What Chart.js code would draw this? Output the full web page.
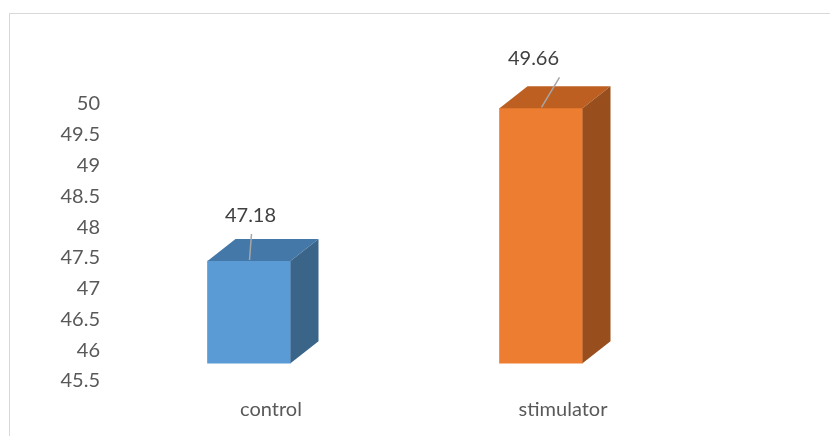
<!DOCTYPE html>
<html lang="en">
  <head>
    <meta charset="utf-8" />
    <title>control vs stimulator</title>
    <style>
      * {
        margin: 0;
        padding: 0;
        box-sizing: border-box;
      }
      body {
        width: 830px;
        height: 436px;
        background: #ffffff;
        overflow: hidden;
        position: relative;
      }
      /* chart frame, cropped at right and bottom */
      .frame {
        position: absolute;
        left: 9px;
        top: 13px;
        width: 900px;
        height: 500px;
        border-left: 1px solid #d9d9d9;
        border-top: 1px solid #d9d9d9;
      }
      #chart {
        position: absolute;
        left: 0;
        top: 0;
      }
    </style>
  </head>
  <body>
    <div class="frame"></div>
    <canvas id="chart" width="830" height="436"></canvas>
    <script src="https://cdn.jsdelivr.net/npm/chart.js@4.4.1/dist/chart.umd.min.js"></script>
    <script>
      // data
      const categories = ["control", "stimulator"];
      const values = [47.18, 49.66];
      const yTicks = [45.5, 46, 46.5, 47, 47.5, 48, 48.5, 49, 49.5, 50];

      const frontColors = ["#5B9BD5", "#ED7D31"];
      const topColors = ["#4478A8", "#BE5F22"];
      const sideColors = ["#3A6488", "#994E1D"];

      // 3D faces + data labels with leader lines
      const cube3d = {
        id: "cube3d",
        afterDatasetsDraw(chart, args, opts) {
          const ctx = chart.ctx;
          const meta = chart.getDatasetMeta(0);
          meta.data.forEach((bar, i) => {
            const w = bar.width;
            const left = bar.x - w / 2;
            const right = bar.x + w / 2;
            const top = bar.y;
            const bottom = bar.base;
            const dx = opts.depthX;
            const dy = opts.depthY;

            ctx.save();
            // top face
            ctx.fillStyle = topColors[i];
            ctx.beginPath();
            ctx.moveTo(left, top);
            ctx.lineTo(left + dx, top - dy);
            ctx.lineTo(right + dx, top - dy);
            ctx.lineTo(right, top);
            ctx.closePath();
            ctx.fill();
            // side face
            ctx.fillStyle = sideColors[i];
            ctx.beginPath();
            ctx.moveTo(right, top);
            ctx.lineTo(right + dx, top - dy);
            ctx.lineTo(right + dx, bottom - dy);
            ctx.lineTo(right, bottom);
            ctx.closePath();
            ctx.fill();

            // leader line
            const lab = opts.labels[i];
            ctx.strokeStyle = "#a6a6a6";
            ctx.lineWidth = 1.5;
            ctx.beginPath();
            ctx.moveTo(bar.x + lab.lx, top + lab.ly);
            ctx.lineTo(bar.x + 0.5, top - 1);
            ctx.stroke();

            // value label
            ctx.fillStyle = "#404040";
            ctx.font = "20px Lato";
            ctx.textAlign = "center";
            ctx.textBaseline = "middle";
            ctx.fillText(values[i].toFixed(2), bar.x + lab.tx, top + lab.ty);
            ctx.restore();
          });
        },
      };

      new Chart(document.getElementById("chart"), {
        type: "bar",
        plugins: [cube3d],
        data: {
          labels: categories,
          datasets: [
            {
              data: values,
              base: 45.52,
              yAxisID: "y2",
              backgroundColor: frontColors,
              borderWidth: 0,
              barThickness: 83,
            },
          ],
        },
        options: {
          responsive: false,
          animation: false,
          devicePixelRatio: 1,
          layout: {
            padding: { left: 0, right: 143, top: 104, bottom: 14 },
          },
          plugins: {
            legend: { display: false },
            tooltip: { enabled: false },
            cube3d: {
              depthX: 28,
              depthY: 22,
              labels: [
                { tx: 1.5, ty: -45, lx: 2.5, ly: -27 },
                { tx: -7.5, ty: -50, lx: 18.5, ly: -31 },
              ],
            },
          },
          scales: {
            x: {
              afterFit: (s) => {
                s.height = 41;
              },
              grid: { display: false, drawTicks: false },
              border: { display: false },
              ticks: {
                color: "#595959",
                font: { family: "Lato", size: 20 },
                padding: 17,
                labelOffset: 22,
              },
            },
            y: {
              min: yTicks[0],
              max: yTicks[yTicks.length - 1],
              afterBuildTicks: (s) => {
                s.ticks = yTicks.map((v) => ({ value: v }));
              },
              afterFit: (s) => {
                s.width = 103;
              },
              grid: { display: false, drawTicks: false },
              border: { display: false },
              ticks: {
                color: "#595959",
                font: { family: "Lato", size: 20 },
                padding: 3,
                callback: (v) => String(v),
              },
            },
            // hidden scale for the bars (front face sits lower in the 3D view)
            y2: {
              display: false,
              min: 45.231,
              max: 49.731,
            },
          },
        },
      });
    </script>
  </body>
</html>
